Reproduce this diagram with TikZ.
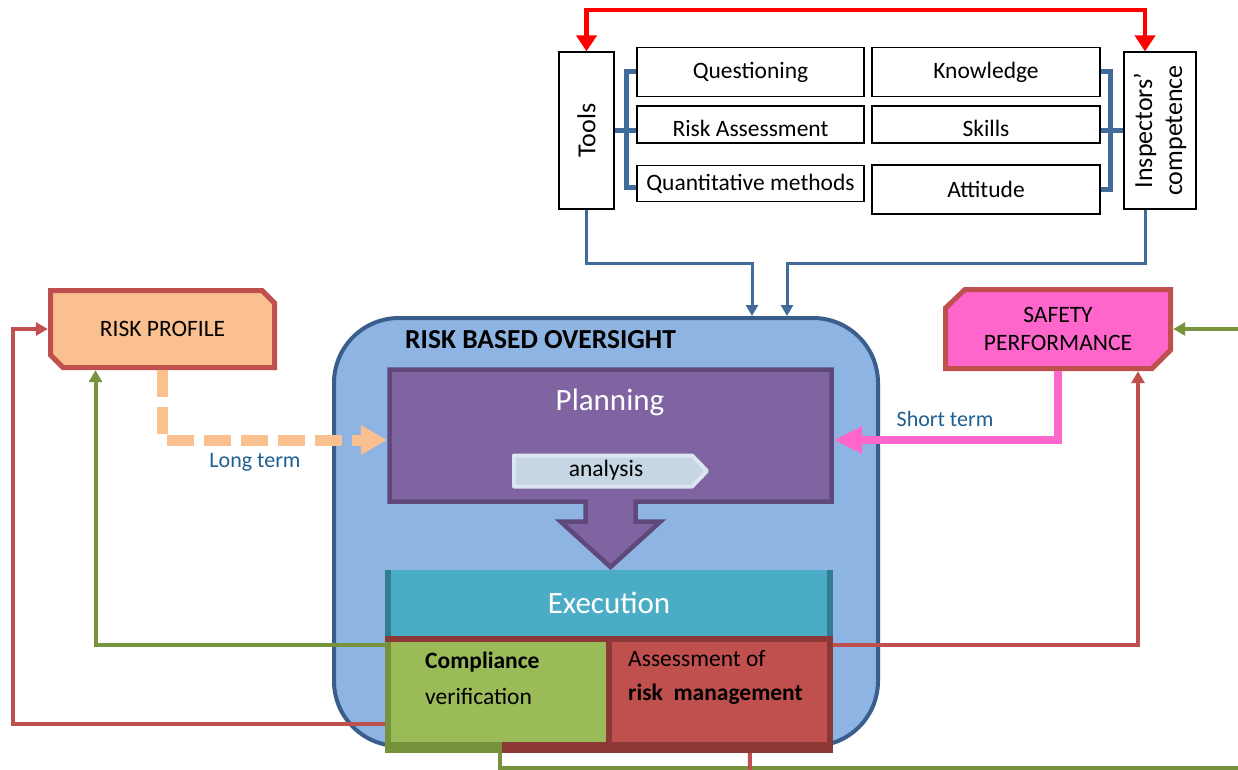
\documentclass[tikz,border=0pt]{standalone}
\usepackage{fontspec}
\setmainfont{Carlito}
\usetikzlibrary{arrows.meta,calc}

\definecolor{topred}{RGB}{255,0,0}
\definecolor{steel}{RGB}{65,107,155}
\definecolor{rbofill}{RGB}{142,180,227}
\definecolor{rbodraw}{RGB}{57,94,140}
\definecolor{planfill}{RGB}{128,100,162}
\definecolor{plandraw}{RGB}{94,73,122}
\definecolor{anafill}{RGB}{198,214,227}
\definecolor{anadraw}{RGB}{220,230,240}
\definecolor{execfill}{RGB}{75,172,198}
\definecolor{execedge}{RGB}{49,126,148}
\definecolor{compfill}{RGB}{155,187,89}
\definecolor{compedge}{RGB}{118,146,60}
\definecolor{assfill}{RGB}{192,80,77}
\definecolor{assedge}{RGB}{140,56,54}
\definecolor{profill}{RGB}{250,192,144}
\definecolor{sffill}{RGB}{255,102,204}
\definecolor{shapeedge}{RGB}{192,80,77}
\definecolor{grnline}{RGB}{119,147,60}
\definecolor{redcon}{RGB}{192,80,77}
\definecolor{termtext}{RGB}{31,95,145}

\newcommand\fBase{\fontsize{23.5}{28}\selectfont}
\newcommand\fBig{\fontsize{31}{36}\selectfont}
\newcommand\fSide{\fontsize{26}{30}\selectfont}
\newcommand\fTerm{\fontsize{22}{26}\selectfont}
\newcommand\fHead{\fontsize{27.5}{32}\selectfont}

\begin{document}
\begin{tikzpicture}[x=1pt,y=-1pt,
  toolbox/.style={draw=black, line width=1.2pt, fill=white, inner sep=0pt, font=\fBase},
  brk/.style={draw=steel, line width=5pt},
  blu/.style={draw=steel, line width=3pt, -{Triangle[length=11pt,width=12pt]}},
  topline/.style={draw=topred, line width=4.5pt, {Triangle[length=16pt,width=20pt]}-{Triangle[length=16pt,width=20pt]}},
  grn/.style={draw=grnline, line width=4pt},
  rdc/.style={draw=redcon, line width=4pt},
  thintip/.style={-{Triangle[length=12pt,width=13pt]}},
  shapebox/.style={draw=shapeedge, line width=5pt},
  plain/.style={inner sep=0pt},
]
\fill[white] (0,0) rectangle (1238,770);
\useasboundingbox (0,0) rectangle (1238,770);

% ---------- tools and competence ----------
\node[toolbox, minimum width=55pt, minimum height=157pt] (tools) at (586.5,130.5) {};
\node[plain, rotate=90, font=\fSide] (toolstxt) at (tools) {Tools};
\node[toolbox, minimum width=72pt, minimum height=157pt] (insp) at (1160,130.5) {};
\node[plain, rotate=90, align=center, font=\fSide] (insptxt) at (insp) {Inspectors’\\competence};

\node[toolbox, minimum width=227pt, minimum height=49pt] (q)  at (750.5,72)    {Questioning};
\node[toolbox, minimum width=227pt, minimum height=37pt] (ra) at (750.5,124.5) {};
\node[plain, font=\fBase] (ratxt) at ($(ra)+(0,3.5)$) {Risk Assessment};
\node[toolbox, minimum width=227pt, minimum height=36pt] (qm) at (750.5,183.5) {Quantitative methods};
\node[toolbox, minimum width=228pt, minimum height=49pt] (kn) at (986,72)      {Knowledge};
\node[toolbox, minimum width=228pt, minimum height=37pt] (sk) at (986,124.5)   {};
\node[plain, font=\fBase] (sktxt) at ($(sk)+(0,3.5)$) {Skills};
\node[toolbox, minimum width=228pt, minimum height=49pt] (at) at (986,189.5)   {Attitude};

% brackets
\draw[brk] (q.west) -- ++(-10,0) |- ($(qm.west)+(0,4)$);
\draw[brk] (tools.east) -- (tools.east -| ra.west);
\draw[brk] (kn.east) -- ++(10,0) |- (at.east);
\draw[brk] (insp.west) -- (insp.west -| sk.east);

% red feedback on top
\coordinate (topmid) at (870,10);
\draw[topline] (tools.north) |- (topmid) -| ($(insp.north)+(-15,0)$);

% ---------- risk based oversight ----------
\node[draw=rbodraw, fill=rbofill, line width=4pt, rounded corners=65pt,
      minimum width=544pt, minimum height=428pt, inner sep=0pt] (rbo) at (606,532) {};
\node[plain, anchor=west, font=\bfseries\fHead] (rbotxt) at (405,340) {RISK BASED OVERSIGHT};

\draw[blu] (tools.south) -- ++(0,54) -| ($(rbo.north)+(146,0)$);
\draw[blu] ($(insp.south)+(-15,0)$) -- ++(0,54) -| ($(rbo.north)+(181,0)$);

% planning block with its downward arrow
\filldraw[fill=planfill, draw=plandraw, line width=4.5pt]
  (389.5,369.5) -- (831.5,369.5) -- (831.5,501.5) -- (635.5,501.5) -- (635.5,521.5)
  -- (660.5,521.5) -- (610.5,567) -- (560.5,521.5) -- (585.5,521.5) -- (585.5,501.5)
  -- (389.5,501.5) -- cycle;
\node[plain, minimum width=447pt, minimum height=137pt] (plan) at (610.5,435.5) {};
\node[plain, text=white, font=\fBig] (plantxt) at (610,402) {Planning};

\filldraw[fill=anafill, draw=anadraw, line width=4pt, line join=round]
  (514,455.5) -- (692,455.5) -- (707,471) -- (692,486.5) -- (514,486.5) -- cycle;
\node[plain, font=\fBase] (ana) at (606,470) {analysis};

% execution
\node[fill=execfill, minimum width=448pt, minimum height=66pt, inner sep=0pt,
      text=white, font=\fBig] (exec) at (609,603) {Execution};
\fill[execedge] (385,570) rectangle (391,636);
\fill[execedge] (827,570) rectangle (833,636);

% compliance / assessment
\fill[compedge] (385,636) rectangle (609,753);
\fill[compfill] (391,642) rectangle (606,742);
\fill[assedge] (609,636) rectangle (833,753);
\fill[assfill] (612,642) rectangle (827,742);
\fill[assedge] (385,636) rectangle (833,642);
\fill[assedge] (502,742) rectangle (609,753);
\fill[assedge] (606,642) rectangle (612,742);
\node[plain, minimum width=224pt, minimum height=117pt] (comp) at (497,694.5) {};
\node[plain, minimum width=224pt, minimum height=117pt] (ass) at (721,694.5) {};
\node[plain, anchor=west, align=left, font=\fontsize{23.5}{36}\selectfont] (comptxt) at (425,678)
  {\textbf{Compliance}\\verification};
\node[plain, anchor=west, align=left, font=\fontsize{23.5}{34}\selectfont] (asstxt) at (628,677)
  {Assessment of\\\textbf{risk\ \ management}};

% ---------- risk profile and safety performance ----------
\filldraw[shapebox, fill=profill]
  (50.5,290.5) -- (262,290.5) -- (274.5,303) -- (274.5,367.5) -- (63,367.5) -- (50.5,355) -- cycle;
\node[plain, minimum width=229pt, minimum height=82pt, font=\fBase] (rp) at (162.5,329) {RISK PROFILE};

\filldraw[shapebox, fill=sffill]
  (965,289.5) -- (1170.5,289.5) -- (1170.5,350) -- (1152,368.5) -- (945.5,368.5) -- (945.5,308) -- cycle;
\node[plain, minimum width=230pt, minimum height=84pt, align=center,
      font=\fontsize{23.5}{28}\selectfont] (sp) at (1058,329) {SAFETY\\PERFORMANCE};

% long term / short term inputs to planning
\draw[draw=profill, line width=11pt, dash pattern=on 27pt off 10pt,
      -{Triangle[length=26pt,width=28pt]}]
  (rp.south) |- ($(plan.west)+(0,4.5)$);
\node[plain, text=termtext, font=\fTerm] (longtxt) at (255,462) {Long term};

\draw[draw=sffill, line width=8pt, -{Triangle[length=28pt,width=26pt]}]
  (sp.south) |- ($(plan.east)+(0,4.5)$);
\node[plain, text=termtext, font=\fTerm] (shorttxt) at (945,419) {Short term};

% ---------- feedback connectors ----------
\draw[grn, thintip] ($(comp.north west)+(0,9)$) -| ($(rp.south)+(-67,0)$);
\draw[rdc, thintip] ($(comp.north west)+(0,88)$) -| ($(rp.west)+(-35,0)$) -- (rp.west);
\draw[rdc, thintip] ($(ass.north east)+(0,9)$) -| ($(sp.south)+(80,0)$);

\coordinate (offright) at (1252,768);
\draw[grn, thintip] ($(comp.south west)+(115,0)$) |- (offright) |- (sp.east);
\coordinate (offbottom) at (750,782);
\draw[rdc] ($(ass.south west)+(141,0)$) -- (offbottom);

\end{tikzpicture}
\end{document}
